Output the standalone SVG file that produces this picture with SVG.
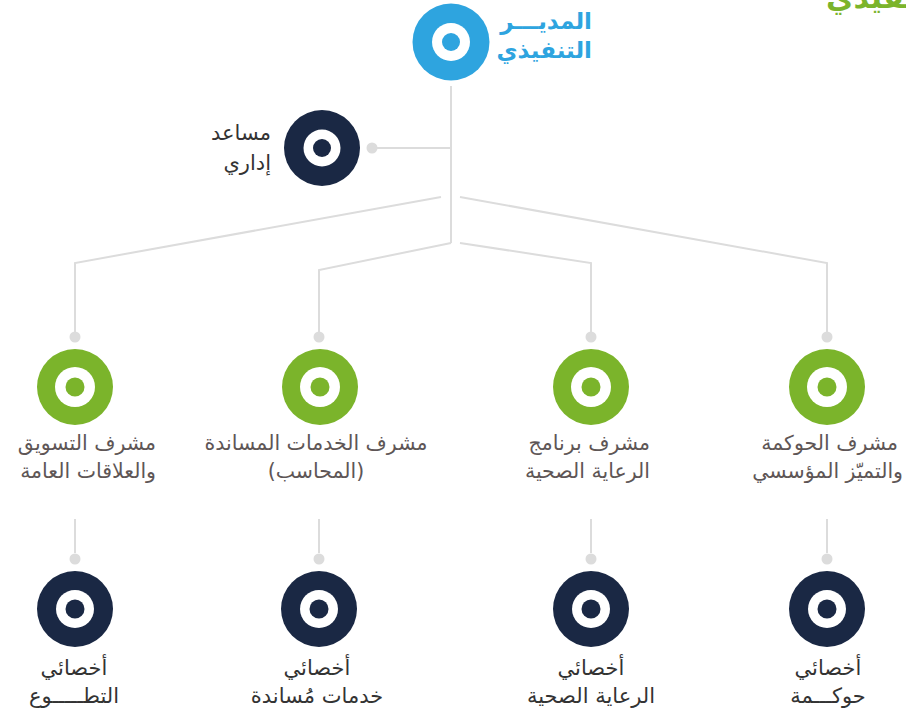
<svg xmlns="http://www.w3.org/2000/svg" width="906" height="711" viewBox="0 0 906 711">
<style>
.bg{fill:#ffffff}
.ln{fill:none;stroke:#dcdcdc;stroke-width:2}
.dot{fill:#dcdcdc}
.w{fill:#ffffff}
.blue{fill:#2ea4df}
.green{fill:#7bb42b}
.navy{fill:#1a2844}
text{font-family:"DejaVu Sans",sans-serif}
.title{font-size:23px;font-weight:bold;fill:#2ea4df}
.lbl{font-size:20.5px;fill:#5e5656}
.lbl2{font-size:21px;fill:#333333}
.head{font-size:30px;font-weight:bold;fill:#7bb42b}
</style>
<rect class="bg" x="0" y="0" width="906" height="711"/>
<text class="head" x="826" y="8" text-anchor="start">التنفيذي</text>
<g id="connectors">
<path class="ln" d="M451,86 V243"/>
<path class="ln" d="M372,148 H451"/>
<circle class="dot" cx="372" cy="148" r="5.5"/>
<path class="ln" d="M441,197 L75,263 V337"/>
<path class="ln" d="M460,197 L827,263 V337"/>
<path class="ln" d="M451,243 L319,270 V337"/>
<path class="ln" d="M460,243 L591,263 V337"/>
<circle class="dot" cx="75" cy="337" r="5.5"/>
<circle class="dot" cx="319" cy="337" r="5.5"/>
<circle class="dot" cx="591" cy="337" r="5.5"/>
<circle class="dot" cx="827" cy="337" r="5.5"/>
<path class="ln" d="M75,519 V553 M319,519 V553 M591,519 V553 M827,519 V553"/>
<circle class="dot" cx="75" cy="559" r="5.5"/>
<circle class="dot" cx="319" cy="559" r="5.5"/>
<circle class="dot" cx="591" cy="559" r="5.5"/>
<circle class="dot" cx="827" cy="559" r="5.5"/>
</g>
<g id="ceo">
<circle class="blue" cx="451" cy="42" r="38.5"/>
<circle class="w" cx="451" cy="42" r="19"/>
<circle class="blue" cx="451" cy="42" r="9"/>
<text class="title" x="592" y="29" text-anchor="end">المديـــر</text>
<text class="title" x="592" y="58" text-anchor="end">التنفيذي</text>
</g>
<g id="assistant">
<circle class="navy" cx="322" cy="148" r="38"/>
<circle class="w" cx="322" cy="148" r="18.5"/>
<circle class="navy" cx="322" cy="148" r="9"/>
<text class="lbl2" x="271" y="140" text-anchor="end">مساعد</text>
<text class="lbl2" x="271" y="170" text-anchor="end">إداري</text>
</g>
<g id="sup-marketing">
<circle class="green" cx="75" cy="387" r="38"/>
<circle class="w" cx="75" cy="387" r="20"/>
<circle class="green" cx="75" cy="387" r="9.5"/>
<text class="lbl" x="156" y="450" text-anchor="end">مشرف التسويق</text>
<text class="lbl" x="156" y="478" text-anchor="end">والعلاقات العامة</text>
</g>
<g id="sup-support">
<circle class="green" cx="320" cy="387" r="38"/>
<circle class="w" cx="320" cy="387" r="20"/>
<circle class="green" cx="320" cy="387" r="9.5"/>
<text class="lbl" x="316" y="450" text-anchor="middle">مشرف الخدمات المساندة</text>
<text class="lbl" x="316" y="478" text-anchor="middle">(المحاسب)</text>
</g>
<g id="sup-care">
<circle class="green" cx="591" cy="387" r="38"/>
<circle class="w" cx="591" cy="387" r="20"/>
<circle class="green" cx="591" cy="387" r="9.5"/>
<text class="lbl" x="650" y="450" text-anchor="end">مشرف برنامج</text>
<text class="lbl" x="650" y="478" text-anchor="end">الرعاية الصحية</text>
</g>
<g id="sup-governance">
<circle class="green" cx="827" cy="387" r="38"/>
<circle class="w" cx="827" cy="387" r="20"/>
<circle class="green" cx="827" cy="387" r="9.5"/>
<text class="lbl" x="898" y="450" text-anchor="end">مشرف الحوكمة</text>
<text class="lbl" x="903" y="478" text-anchor="end">والتميّز المؤسسي</text>
</g>
<g id="spec-volunteer">
<circle class="navy" cx="75" cy="609" r="38"/>
<circle class="w" cx="75" cy="609" r="19"/>
<circle class="navy" cx="75" cy="609" r="9.5"/>
<text class="lbl2" x="74" y="675" text-anchor="middle">أخصائي</text>
<text class="lbl2" x="74" y="703" text-anchor="middle">التطـــــوع</text>
</g>
<g id="spec-support">
<circle class="navy" cx="319" cy="609" r="38"/>
<circle class="w" cx="319" cy="609" r="19"/>
<circle class="navy" cx="319" cy="609" r="9.5"/>
<text class="lbl2" x="317" y="675" text-anchor="middle">أخصائي</text>
<text class="lbl2" x="317" y="703" text-anchor="middle">خدمات مُساندة</text>
</g>
<g id="spec-care">
<circle class="navy" cx="591" cy="609" r="38"/>
<circle class="w" cx="591" cy="609" r="19"/>
<circle class="navy" cx="591" cy="609" r="9.5"/>
<text class="lbl2" x="591" y="675" text-anchor="middle">أخصائي</text>
<text class="lbl2" x="591" y="703" text-anchor="middle">الرعاية الصحية</text>
</g>
<g id="spec-governance">
<circle class="navy" cx="827" cy="609" r="38"/>
<circle class="w" cx="827" cy="609" r="19"/>
<circle class="navy" cx="827" cy="609" r="9.5"/>
<text class="lbl2" x="828" y="675" text-anchor="middle">أخصائي</text>
<text class="lbl2" x="828" y="703" text-anchor="middle">حوكـــمة</text>
</g>
</svg>
